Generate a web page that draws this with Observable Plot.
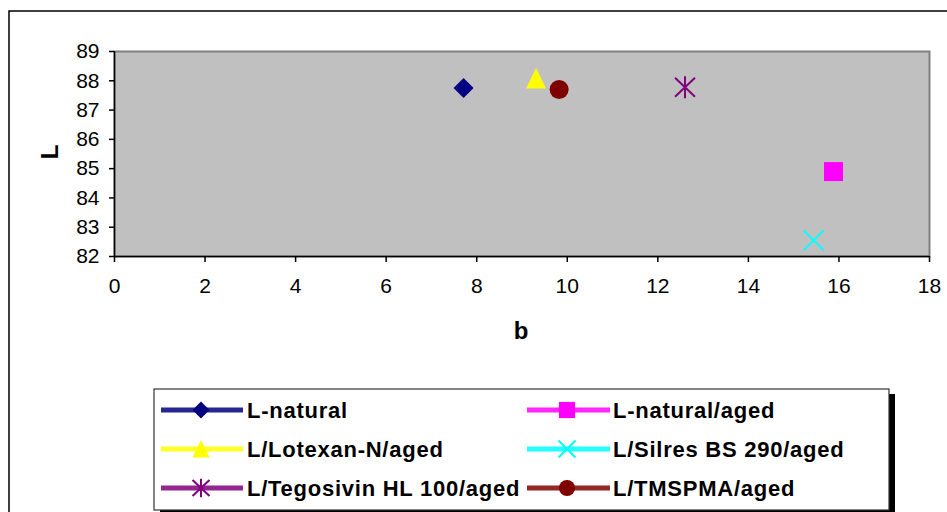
<!DOCTYPE html>
<html>
<head>
<meta charset="utf-8">
<script src="https://cdn.jsdelivr.net/npm/d3@7"></script>
<script src="https://cdn.jsdelivr.net/npm/@observablehq/plot@0.6"></script>
<style>
  html, body { margin: 0; padding: 0; background: #fff; }
  #chart { width: 947px; height: 512px; position: relative; overflow: hidden; }
</style>
</head>
<body>
<div id="chart"></div>
<script>
// ---- data ----
const seriesNames = ["L-natural", "L-natural/aged", "L/Lotexan-N/aged", "L/Silres BS 290/aged", "L/Tegosivin HL 100/aged", "L/TMSPMA/aged"];
const bValues = [7.71, 15.88, 9.31, 15.44, 12.60, 9.82];
const LValues = [87.75, 84.90, 88.08, 82.55, 87.78, 87.70];
const seriesColors = ["#000080", "#FF00FF", "#FFFF00", "#00FFFF", "#800080", "#800000"];
const seriesSymbols = ["diamond", "square", "triangle", "times", "asterisk", "circle"];
const xTicks = [0, 2, 4, 6, 8, 10, 12, 14, 16, 18];
const yTicks = [82, 83, 84, 85, 86, 87, 88, 89];
const xLabel = "b";
const yLabel = "L";

// ---- custom symbols ----
function rad(size) { return Math.sqrt(size / Math.PI); }
const symbolDefs = {
  diamond: { draw(c, s) { const r = rad(s); c.moveTo(0, -r); c.lineTo(r, 0); c.lineTo(0, r); c.lineTo(-r, 0); c.closePath(); } },
  square: { draw(c, s) { const r = rad(s) * 0.95; c.moveTo(-r, -r); c.lineTo(r, -r); c.lineTo(r, r); c.lineTo(-r, r); c.closePath(); } },
  triangle: { draw(c, s) { const r = rad(s); c.moveTo(0, -r * 1.05); c.lineTo(r, r); c.lineTo(-r, r); c.closePath(); } },
  times: { draw(c, s) { const r = rad(s); c.moveTo(-r, -r); c.lineTo(r, r); c.moveTo(r, -r); c.lineTo(-r, r); } },
  asterisk: { draw(c, s) { const r = rad(s); c.moveTo(0, -r * 1.1); c.lineTo(0, r * 1.1); c.moveTo(-r, -r * 0.95); c.lineTo(r, r * 0.95); c.moveTo(r, -r * 0.95); c.lineTo(-r, r * 0.95); } },
  circle: { draw(c, s) { const r = rad(s) * 0.95; c.moveTo(r, 0); c.arc(0, 0, r, 0, 2 * Math.PI); c.closePath(); } }
};
const strokeOnly = new Set(["times", "asterisk"]);

const font = "'Liberation Sans', Arial, sans-serif";

const dotMarks = seriesNames.map((name, i) => {
  const sym = seriesSymbols[i];
  const hollow = strokeOnly.has(sym);
  return Plot.dot([i], {
    x: (d) => bValues[d],
    y: (d) => LValues[d],
    symbol: symbolDefs[sym],
    r: 10,
    fill: hollow ? "none" : seriesColors[i],
    stroke: hollow ? seriesColors[i] : "none",
    strokeWidth: hollow ? 2 : 0
  });
});

const plot = Plot.plot({
  width: 947,
  height: 512,
  marginLeft: 114,
  marginRight: 18,
  marginTop: 51,
  marginBottom: 256,
  style: { fontFamily: font, background: "transparent", overflow: "visible" },
  x: { domain: [0, 18] },
  y: { domain: [82, 89] },
  marks: [
    Plot.frame({ fill: "#C0C0C0", stroke: "#808080", strokeWidth: 2 }),
    Plot.ruleX([0], { stroke: "#000", strokeWidth: 1.5 }),
    Plot.ruleY([82], { stroke: "#000", strokeWidth: 1.5 }),
    Plot.axisX({ ticks: xTicks, tickFormat: "d", tickSize: 6, tickPadding: 16, fontSize: 21, stroke: "#000", strokeWidth: 1.5, color: "#000", label: null }),
    Plot.axisY({ ticks: yTicks, tickFormat: "d", tickSize: 5, tickPadding: 10, fontSize: 21, stroke: "#000", strokeWidth: 1.5, color: "#000", label: null }),
    ...dotMarks
  ]
});

document.getElementById("chart").appendChild(plot);

// ---- extra decorations: outer border, axis titles, legend ----
const svg = d3.select(plot);
const deco = svg.append("g").attr("font-family", font);

// outer chart border (extends beyond the picture on right/bottom)
deco.append("path")
  .attr("d", "M9,520 L9,11 L960,11")
  .attr("fill", "none").attr("stroke", "#000").attr("stroke-width", 1.5);

// axis titles
deco.append("text").text(xLabel)
  .attr("x", 521).attr("y", 339)
  .attr("text-anchor", "middle").attr("font-weight", "bold").attr("font-size", 24).attr("fill", "#000");
deco.append("text").text(yLabel)
  .attr("transform", "translate(58,152) rotate(-90)")
  .attr("text-anchor", "middle").attr("font-weight", "bold").attr("font-size", 24).attr("fill", "#000");

// legend box with shadow
deco.append("rect").attr("x", 160).attr("y", 394).attr("width", 735).attr("height", 122).attr("fill", "#000");
deco.append("rect").attr("x", 154).attr("y", 389).attr("width", 735).attr("height", 121)
  .attr("fill", "#fff").attr("stroke", "#333").attr("stroke-width", 1.2);

const colX = [{ l0: 161, l1: 243, m: 201, t: 247 }, { l0: 527, l1: 610, m: 567, t: 613 }];
const rowY = [410, 449, 488];
seriesNames.forEach((name, i) => {
  const c = colX[i % 2];
  const y = rowY[Math.floor(i / 2)];
  const g = deco.append("g");
  g.append("line").attr("x1", c.l0).attr("x2", c.l1).attr("y1", y).attr("y2", y)
    .attr("stroke", seriesColors[i]).attr("stroke-width", 5).attr("stroke-opacity", 0.85);
  const p = d3.path();
  symbolDefs[seriesSymbols[i]].draw(p, Math.PI * 8.5 * 8.5);
  const hollow = strokeOnly.has(seriesSymbols[i]);
  g.append("path").attr("d", p.toString()).attr("transform", `translate(${c.m},${y})`)
    .attr("fill", hollow ? "none" : seriesColors[i])
    .attr("stroke", hollow ? seriesColors[i] : "none")
    .attr("stroke-width", hollow ? 2 : 0);
  g.append("text").text(name)
    .attr("x", c.t).attr("y", y).attr("dy", "0.36em")
    .attr("text-anchor", "start")
    .attr("font-weight", "bold").attr("font-size", 22).attr("letter-spacing", "0.75px").attr("fill", "#000");
});
</script>
</body>
</html>
